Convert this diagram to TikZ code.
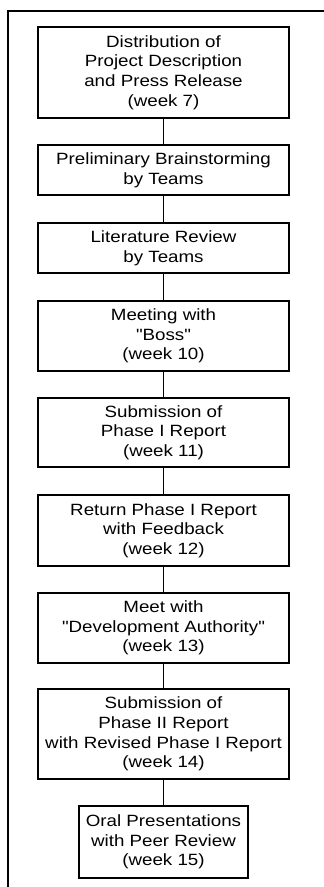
\documentclass[tikz,border=0pt]{standalone}
\usepackage{fontspec}
\setmainfont[FakeStretch=1.15, Ligatures=TeXOff]{Liberation Sans}
\begin{document}
\begin{tikzpicture}[x=1pt,y=-1pt,
  stepbox/.style={draw=black, line width=1.2pt, inner sep=0pt, align=center,
    font=\fontsize{16.3}{19.7}\selectfont, minimum width=251pt},
  link/.style={line width=1.2pt},
  frame/.style={line width=2pt}]
\useasboundingbox (0,0) rectangle (324,887);
\draw[frame] (324,11) coordinate (fr) -- (8,11) -- (8,887);
\node[stepbox, minimum height=91pt] (b1) at (163.5,72.5) {Distribution of\\Project Description\\and Press Release\\(week 7)};
\node[stepbox, minimum height=50pt] (b2) at (163.5,170) {Preliminary Brainstorming\\by Teams};
\node[stepbox, minimum height=50pt] (b3) at (163.5,248) {Literature Review\\by Teams};
\node[stepbox, minimum height=70pt] (b4) at (163.5,336) {Meeting with\\"Boss"\\(week 10)};
\node[stepbox, minimum height=69pt] (b5) at (163.5,432.5) {Submission of\\Phase I Report\\(week 11)};
\node[stepbox, minimum height=71pt] (b6) at (163.5,530.5) {Return Phase I Report\\with Feedback\\(week 12)};
\node[stepbox, minimum height=70pt] (b7) at (163.5,628) {Meet with\\"Development Authority"\\(week 13)};
\node[stepbox, minimum height=90pt] (b8) at (163.5,734) {Submission of\\Phase II Report\\with Revised Phase I Report\\(week 14)};
\node[stepbox, minimum height=72pt, minimum width=169pt] (b9) at (163.5,842) {Oral Presentations\\with Peer Review\\(week 15)};
\foreach \a/\b in {b1/b2,b2/b3,b3/b4,b4/b5,b5/b6,b6/b7,b7/b8,b8/b9}
  \draw[link] (\a.south) -- (\b.north);
\end{tikzpicture}
\end{document}
